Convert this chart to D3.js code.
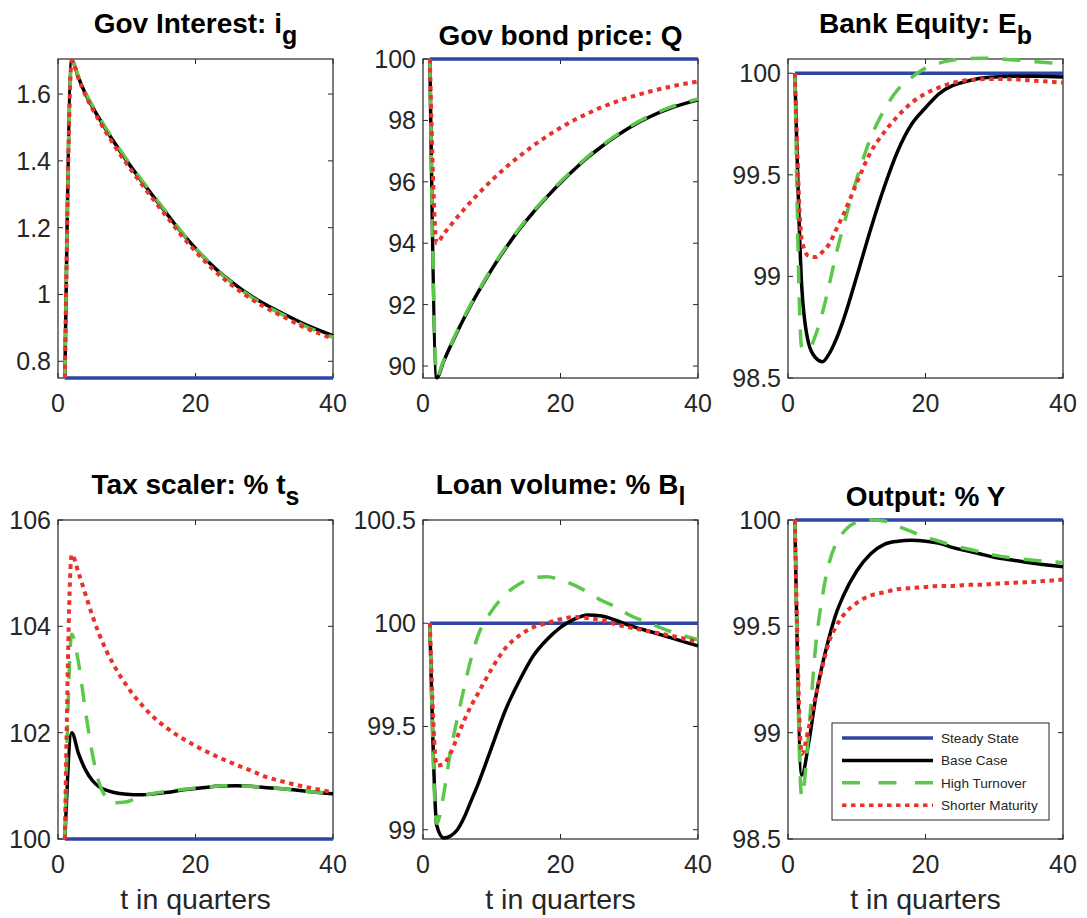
<!DOCTYPE html>
<html>
<head>
<meta charset="utf-8">
<script src="https://cdn.jsdelivr.net/npm/d3@7"></script>
<style>
  body { margin: 0; background: #fff; }
  svg { display: block; font-family: "Liberation Sans", Arial, Helvetica, sans-serif; }
</style>
</head>
<body>
<div id="chart"></div>
<script>
const t = [1, 2, 3, 4, 5, 6, 7, 8, 10, 12, 14, 16, 18, 20, 22, 24, 26, 28, 30, 33, 36, 40];
const tSS = [1, 40];

// Gov Interest: i_g
const igSteady = [0.75, 0.75];
const igBase   = [0.75, 1.70, 1.648, 1.60, 1.562, 1.527, 1.493, 1.461, 1.40, 1.344, 1.29, 1.237, 1.185, 1.138, 1.095, 1.058, 1.026, 0.997, 0.972, 0.94, 0.91, 0.877];
const igHigh   = [0.75, 1.70, 1.652, 1.605, 1.566, 1.531, 1.497, 1.465, 1.404, 1.347, 1.293, 1.24, 1.187, 1.139, 1.095, 1.057, 1.024, 0.994, 0.969, 0.936, 0.905, 0.872];
const igShort  = [0.75, 1.70, 1.645, 1.596, 1.556, 1.52, 1.485, 1.452, 1.391, 1.335, 1.281, 1.228, 1.176, 1.129, 1.086, 1.049, 1.017, 0.988, 0.963, 0.931, 0.9, 0.868];

// Gov bond price: Q
const qSteady = [100, 100];
const qBase   = [100, 89.62, 90.15, 90.65, 91.12, 91.57, 92.0, 92.4, 93.15, 93.83, 94.45, 95.0, 95.5, 95.97, 96.4, 96.8, 97.15, 97.47, 97.76, 98.12, 98.4, 98.67];
const qHigh   = [100, 89.66, 90.18, 90.68, 91.15, 91.6, 92.03, 92.43, 93.18, 93.86, 94.48, 95.03, 95.53, 96.0, 96.43, 96.83, 97.18, 97.5, 97.79, 98.15, 98.43, 98.7];
const qShort  = [100, 94.0, 94.3, 94.58, 94.85, 95.11, 95.36, 95.6, 96.05, 96.46, 96.83, 97.17, 97.48, 97.76, 98.01, 98.23, 98.43, 98.6, 98.75, 98.94, 99.1, 99.27];

// Bank Equity: E_b
const ebSteady = [100, 100];
const ebBase   = [100, 98.95, 98.67, 98.6, 98.58, 98.62, 98.69, 98.78, 99.0, 99.23, 99.44, 99.62, 99.75, 99.83, 99.9, 99.94, 99.96, 99.975, 99.982, 99.985, 99.985, 99.982];
const ebHigh   = [100, 98.65, 98.64, 98.71, 98.82, 98.96, 99.11, 99.24, 99.48, 99.68, 99.82, 99.92, 99.98, 100.025, 100.05, 100.065, 100.072, 100.074, 100.072, 100.065, 100.057, 100.047];
const ebShort  = [100, 99.18, 99.1, 99.095, 99.12, 99.16, 99.23, 99.3, 99.46, 99.61, 99.71, 99.79, 99.855, 99.9, 99.93, 99.953, 99.965, 99.97, 99.972, 99.97, 99.963, 99.954];

// Tax scaler: % t_s
const tsSteady = [100, 100];
const tsBase   = [100, 102.0, 101.6, 101.3, 101.1, 100.98, 100.92, 100.88, 100.84, 100.83, 100.85, 100.88, 100.92, 100.95, 100.98, 100.995, 101.0, 100.99, 100.97, 100.94, 100.9, 100.85];
const tsHigh   = [100, 103.85, 103.3, 102.4, 101.6, 101.05, 100.78, 100.68, 100.7, 100.8, 100.86, 100.9, 100.93, 100.96, 100.98, 101.0, 101.0, 100.99, 100.97, 100.94, 100.9, 100.86];
const tsShort  = [100, 105.35, 105.0, 104.6, 104.2, 103.85, 103.55, 103.3, 102.88, 102.55, 102.28, 102.07, 101.9, 101.75, 101.62, 101.5, 101.39, 101.29, 101.18, 101.07, 100.98, 100.88];

// Loan volume: % B_l
const blSteady = [100, 100];
const blBase   = [100, 99.02, 98.96, 98.97, 99.0, 99.06, 99.14, 99.22, 99.4, 99.58, 99.72, 99.84, 99.92, 99.98, 100.02, 100.04, 100.035, 100.015, 99.99, 99.96, 99.93, 99.89];
const blHigh   = [100, 99.03, 99.17, 99.38, 99.54, 99.69, 99.83, 99.94, 100.06, 100.14, 100.19, 100.22, 100.225, 100.21, 100.185, 100.15, 100.11, 100.08, 100.04, 100.0, 99.96, 99.92];
const blShort  = [100, 99.31, 99.32, 99.37, 99.45, 99.53, 99.6, 99.66, 99.78, 99.88, 99.94, 99.98, 100.0, 100.02, 100.03, 100.025, 100.015, 99.995, 99.98, 99.96, 99.94, 99.91];

// Output: % Y
const ySteady = [100, 100];
const yBase   = [100, 98.8, 98.95, 99.16, 99.32, 99.45, 99.56, 99.64, 99.76, 99.84, 99.885, 99.9, 99.905, 99.9, 99.89, 99.87, 99.855, 99.84, 99.825, 99.81, 99.795, 99.78];
const yHigh   = [100, 98.7, 99.0, 99.4, 99.64, 99.8, 99.89, 99.94, 99.99, 100.0, 99.995, 99.97, 99.945, 99.92, 99.9, 99.88, 99.865, 99.85, 99.835, 99.82, 99.81, 99.8];
const yShort  = [100, 98.9, 99.02, 99.17, 99.31, 99.43, 99.5, 99.55, 99.61, 99.645, 99.66, 99.675, 99.68, 99.685, 99.69, 99.69, 99.695, 99.695, 99.7, 99.705, 99.71, 99.72];

const xTicks = [0, 20, 40];
const seriesNames = ["Steady State", "Base Case", "High Turnover", "Shorter Maturity"];

let width = 1087,
    height = 918,
    colLeft = [58, 423, 788],
    rowTop = [59, 520],
    plotW = 275,
    plotH = 319,
    ink = "#262626";

// line styles for the four cases
const styles = [
  { color: "#2e44a6", dash: null, w: 3.5 },
  { color: "#000000", dash: null, w: 3.5 },
  { color: "#5cc84b", dash: "18,14", w: 3.5 },
  { color: "#e8332b", dash: "4.5,4.5", w: 4 }
];

const panels = [
  { title: "Gov Interest: i", sub: "g", domain: [0.75, 1.705], ticks: [0.8, 1, 1.2, 1.4, 1.6], series: [igSteady, igBase, igHigh, igShort] },
  { title: "Gov bond price: Q", sub: null, domain: [89.61, 100], ticks: [90, 92, 94, 96, 98, 100], series: [qSteady, qBase, qHigh, qShort] },
  { title: "Bank Equity: E", sub: "b", domain: [98.5, 100.07], ticks: [98.5, 99, 99.5, 100], series: [ebSteady, ebBase, ebHigh, ebShort] },
  { title: "Tax scaler: % t", sub: "s", domain: [100, 106], ticks: [100, 102, 104, 106], series: [tsSteady, tsBase, tsHigh, tsShort] },
  { title: "Loan volume: % B", sub: "l", domain: [98.955, 100.5], ticks: [99, 99.5, 100, 100.5], series: [blSteady, blBase, blHigh, blShort] },
  { title: "Output: % Y", sub: null, domain: [98.5, 100], ticks: [98.5, 99, 99.5, 100], series: [ySteady, yBase, yHigh, yShort], legend: true }
];

let svg = d3.select("#chart")
  .append("svg")
    .attr("width", width)
    .attr("height", height);

panels.forEach((p, i) => {
  let row = Math.floor(i / 3),
      col = i % 3,
      left = colLeft[col],
      top = rowTop[row];

  let xScale = d3.scaleLinear().domain([0, 40]).range([0, plotW]);
  let yScale = d3.scaleLinear().domain(p.domain).range([plotH, 0]);

  let g = svg.append("g")
    .attr("transform", "translate(" + left + "," + top + ")");

  // box + inward ticks on all four sides (matlab "box on")
  g.append("rect")
    .attr("width", plotW)
    .attr("height", plotH)
    .attr("fill", "none")
    .attr("stroke", ink)
    .attr("stroke-width", 1.2);

  let tl = 5;
  xTicks.forEach(v => {
    let x = xScale(v);
    g.append("line").attr("x1", x).attr("x2", x).attr("y1", plotH).attr("y2", plotH - tl).attr("stroke", ink);
    g.append("line").attr("x1", x).attr("x2", x).attr("y1", 0).attr("y2", tl).attr("stroke", ink);
    g.append("text")
      .attr("x", x)
      .attr("y", plotH + 34)
      .attr("text-anchor", "middle")
      .attr("font-size", 25)
      .attr("fill", ink)
      .text(v);
  });

  p.ticks.forEach(v => {
    let y = yScale(v);
    g.append("line").attr("x1", 0).attr("x2", tl).attr("y1", y).attr("y2", y).attr("stroke", ink);
    g.append("line").attr("x1", plotW).attr("x2", plotW - tl).attr("y1", y).attr("y2", y).attr("stroke", ink);
    g.append("text")
      .attr("x", -7)
      .attr("y", y)
      .attr("dy", "0.36em")
      .attr("text-anchor", "end")
      .attr("font-size", 25)
      .attr("fill", ink)
      .text(d3.format("~g")(v));
  });

  // the curves: steady state first, shorter maturity on top
  let line = d3.line()
    .x(d => xScale(d[0]))
    .y(d => yScale(d[1]))
    .curve(d3.curveMonotoneX);

  p.series.forEach((vals, k) => {
    let xs = vals.length === 2 ? tSS : t;
    let s = styles[k];
    g.append("path")
      .datum(xs.map((tt, j) => [tt, vals[j]]))
      .attr("d", line)
      .attr("fill", "none")
      .attr("stroke", s.color)
      .attr("stroke-width", s.w)
      .attr("stroke-dasharray", s.dash)
      .attr("stroke-linejoin", "round");
  });

  // title with optional subscript
  let title = g.append("text")
    .attr("x", plotW / 2)
    .attr("y", p.sub ? -26 : -14)
    .attr("text-anchor", "middle")
    .attr("font-size", 28)
    .attr("font-weight", "bold")
    .attr("fill", "#000");
  title.append("tspan").text(p.title);
  if (p.sub) {
    title.append("tspan")
      .attr("dy", 11)
      .attr("font-size", 25)
      .text(p.sub);
  }

  if (row === 1) {
    g.append("text")
      .attr("x", plotW / 2)
      .attr("y", plotH + 70)
      .attr("text-anchor", "middle")
      .attr("font-size", 28.5)
      .attr("fill", ink)
      .text("t in quarters");
  }

  if (p.legend) {
    let lg = g.append("g").attr("transform", "translate(44,203)");
    lg.append("rect")
      .attr("width", 217)
      .attr("height", 97)
      .attr("fill", "#fff")
      .attr("stroke", ink)
      .attr("stroke-width", 1);
    seriesNames.forEach((name, k) => {
      let y = 15 + k * 22.4;
      let s = styles[k];
      lg.append("line")
        .attr("x1", 10).attr("x2", 101)
        .attr("y1", y).attr("y2", y)
        .attr("stroke", s.color)
        .attr("stroke-width", 3.5)
        .attr("stroke-dasharray", k === 2 ? "18,18.5" : s.dash);
      lg.append("text")
        .attr("x", 109)
        .attr("y", y)
        .attr("dy", "0.36em")
        .attr("font-size", 13.6)
        .attr("fill", ink)
        .text(name);
    });
  }
});
</script>
</body>
</html>
